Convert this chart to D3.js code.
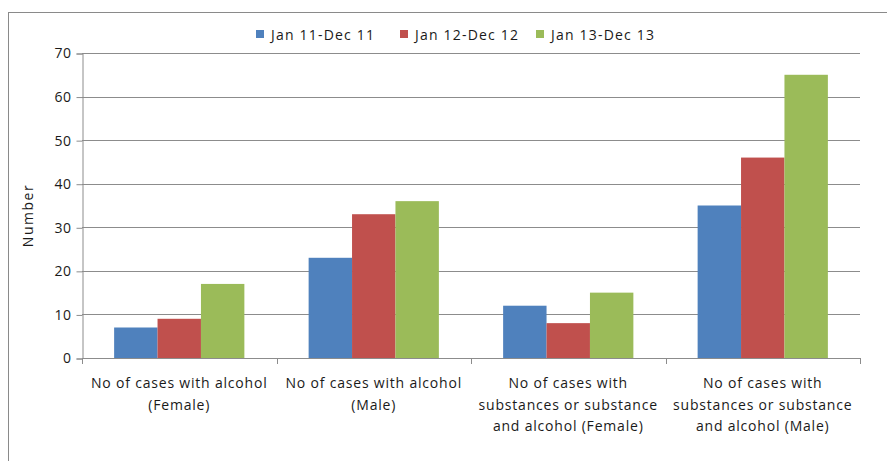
<!DOCTYPE html>
<html>
<head>
<meta charset="utf-8">
<script src="https://cdn.jsdelivr.net/npm/d3@7"></script>
<style>
  html, body { margin: 0; padding: 0; background: #fff; }
  svg { display: block; }
  text { font-family: "Open Sans", "Liberation Sans", sans-serif; fill: #1a1a1a; }
</style>
</head>
<body>
<svg id="chart" width="887" height="461"></svg>
<script>
// Category labels (each entry is a list of wrapped lines)
const categories = [
  ["No of cases with alcohol", "(Female)"],
  ["No of cases with alcohol", "(Male)"],
  ["No of cases with", "substances or substance", "and alcohol (Female)"],
  ["No of cases with", "substances or substance", "and alcohol (Male)"]
];
const seriesNames = ["Jan 11-Dec 11", "Jan 12-Dec 12", "Jan 13-Dec 13"];
const seriesColors = ["#4F81BD", "#C0504D", "#9BBB59"];
const values2011 = [7, 23, 12, 35];
const values2012 = [9, 33, 8, 46];
const values2013 = [17, 36, 15, 65];
const yTicks = [0, 10, 20, 30, 40, 50, 60, 70];
const yLabel = "Number";

const seriesValues = [values2011, values2012, values2013];
const catIdx = categories.map((_, i) => i);

const svg = d3.select("#chart");
const plot = { left: 82, right: 860, top: 53, bottom: 358 };

// outer frame of the chart area
svg.append("rect")
  .attr("x", 8.5).attr("y", 12.5)
  .attr("width", 900).attr("height", 470)
  .attr("fill", "none").attr("stroke", "#8a8a8a").attr("stroke-width", 1);

const y = d3.scaleLinear().domain([0, 70]).range([plot.bottom, plot.top]);
const x0 = d3.scaleBand().domain(catIdx).range([plot.left, plot.right]).paddingInner(0).paddingOuter(0);
const x1 = d3.scaleBand().domain(d3.range(seriesNames.length)).range([0, x0.bandwidth()]).paddingInner(0).paddingOuter(0.74);

// horizontal gridlines
svg.append("g").selectAll("line")
  .data(yTicks.filter(t => t > 0))
  .join("line")
  .attr("x1", plot.left).attr("x2", plot.right)
  .attr("y1", d => Math.round(y(d)) + 0.5).attr("y2", d => Math.round(y(d)) + 0.5)
  .attr("stroke", "#8c8c8c").attr("stroke-width", 1);

// bars
const groups = svg.append("g").selectAll("g")
  .data(catIdx)
  .join("g")
  .attr("transform", i => `translate(${x0(i)},0)`);

groups.selectAll("rect")
  .data(i => seriesValues.map((vals, s) => ({ s, v: vals[i] })))
  .join("rect")
  .attr("x", d => x1(d.s))
  .attr("width", x1.bandwidth())
  .attr("y", d => y(d.v))
  .attr("height", d => y(0) - y(d.v))
  .attr("fill", d => seriesColors[d.s]);

// y axis
const yAxis = d3.axisLeft(y).tickValues(yTicks).tickSize(6).tickPadding(5).tickFormat(d3.format("d"));
const gy = svg.append("g").attr("transform", `translate(${plot.left + 0.5},0.5)`).call(yAxis);
gy.select(".domain").attr("stroke", "#8c8c8c");
gy.selectAll(".tick line").attr("stroke", "#8c8c8c");
gy.selectAll(".tick text")
  .attr("font-family", "'Open Sans', sans-serif")
  .attr("font-size", 14).attr("letter-spacing", 0.5).attr("fill", "#1a1a1a");

// x axis with boundary ticks between categories
const xAxisLine = svg.append("g");
xAxisLine.append("line")
  .attr("x1", plot.left).attr("x2", plot.right)
  .attr("y1", plot.bottom + 0.5).attr("y2", plot.bottom + 0.5)
  .attr("stroke", "#8c8c8c");
const boundaries = catIdx.map(i => x0(i)).concat([x0(catIdx[catIdx.length - 1]) + x0.bandwidth()]);
xAxisLine.selectAll("line.tk")
  .data(boundaries)
  .join("line").attr("class", "tk")
  .attr("x1", d => Math.round(d) + 0.5).attr("x2", d => Math.round(d) + 0.5)
  .attr("y1", plot.bottom).attr("y2", plot.bottom + 6)
  .attr("stroke", "#8c8c8c");

// category labels
const labels = svg.append("g").selectAll("text")
  .data(catIdx)
  .join("text")
  .attr("text-anchor", "middle")
  .attr("font-size", 14)
  .attr("letter-spacing", 0.8)
  .attr("x", i => x0(i) + x0.bandwidth() / 2)
  .attr("y", 388);
labels.selectAll("tspan")
  .data(i => categories[i])
  .join("tspan")
  .attr("x", function () { return d3.select(this.parentNode).attr("x"); })
  .attr("dy", (d, k) => k === 0 ? 0 : 21.5)
  .text(d => d);

// y axis title
svg.append("text")
  .attr("transform", `translate(33,${(plot.top + plot.bottom) / 2 + 10}) rotate(-90)`)
  .attr("text-anchor", "middle")
  .attr("font-size", 14)
  .attr("letter-spacing", 1.5)
  .text(yLabel);

// legend
const legendX = [256, 400, 536];
const legend = svg.append("g").selectAll("g")
  .data(seriesNames)
  .join("g")
  .attr("transform", (d, i) => `translate(${legendX[i]},30)`);
legend.append("rect")
  .attr("width", 8).attr("height", 8)
  .attr("fill", (d, i) => seriesColors[i]);
legend.append("text")
  .attr("x", 15).attr("y", 9.5)
  .attr("font-size", 14)
  .attr("letter-spacing", 1.2)
  .text(d => d);
</script>
</body>
</html>
